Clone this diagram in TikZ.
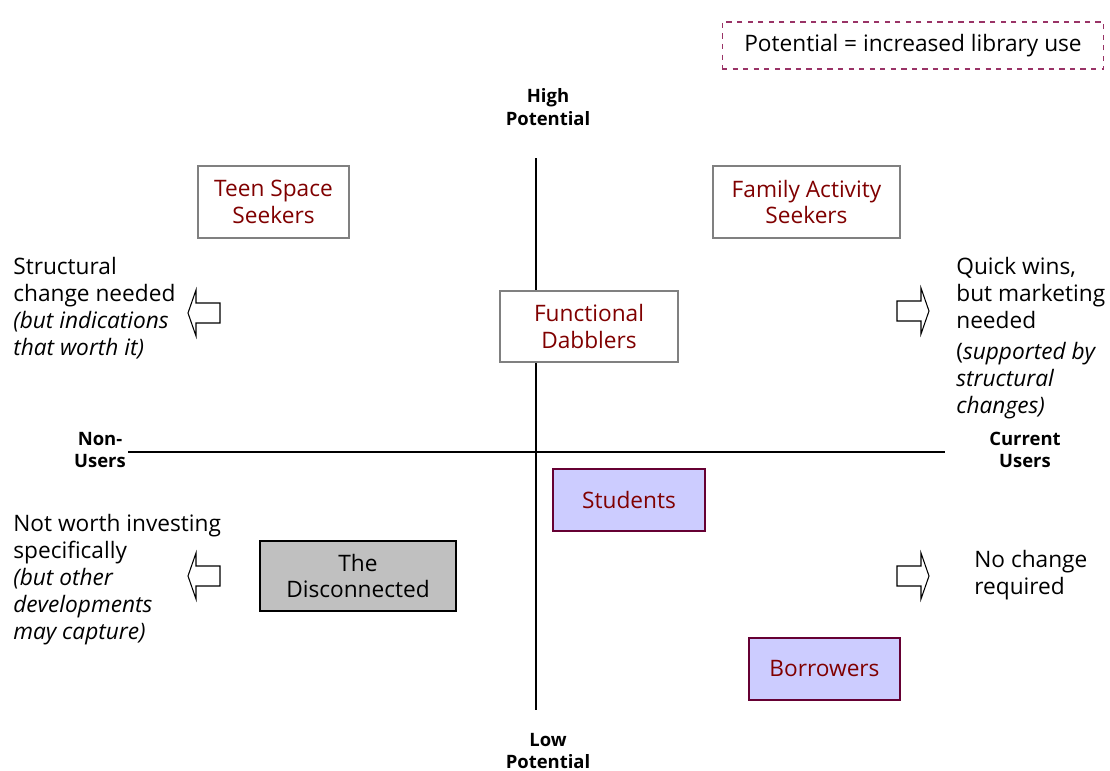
\documentclass[tikz,border=0pt]{standalone}
\usepackage{fontspec}
\setmainfont{Open Sans}
\usetikzlibrary{positioning}
\definecolor{segtext}{HTML}{800000}
\definecolor{greyframe}{HTML}{808080}
\definecolor{plumframe}{HTML}{660033}
\definecolor{lavender}{HTML}{CCCCFF}
\definecolor{silverfill}{HTML}{C0C0C0}
\definecolor{legendframe}{HTML}{993366}

\begin{document}
\begin{tikzpicture}[x=0.02cm, y=-0.02cm,
        segment/.style={rectangle, draw=greyframe, fill=white, text=segtext, align=center, line width=1.1pt, font=\fontsize{12.9}{15}\selectfont},
        current/.style={segment, draw=plumframe, fill=lavender},
        lost/.style={segment, draw=black, fill=silverfill, text=black, line width=0.9pt},
        axislabel/.style={align=center, font=\fontsize{10.5}{12.8}\selectfont\bfseries},
        note/.style={align=left, anchor=north west, inner sep=0pt, font=\fontsize{12.9}{15.3}\selectfont},
        axis/.style={draw, line width=0.6pt},
        fatarrow/.style={draw, line width=0.6pt, fill=white},
        pics/shift arrow/.style={code={
            \path[fatarrow] (-16,-10) -- (8,-10) -- (8,-23) -- (16,0) -- (8,23) -- (8,10) -- (-16,10) -- cycle;}}]

        \useasboundingbox (0,0) rectangle (1110,771);

        % Axes
        \coordinate (top) at (536,158);
        \coordinate (bottom) at (536,710);
        \coordinate (left) at (128,452);
        \coordinate (right) at (945,452);
        \path [axis] (top) -- (bottom);
        \path [axis] (left) -- (right);

        % Axis labels
        \node [axislabel] (high) at (548,107) {High\\Potential};
        \node [axislabel] (low) at (548,751) {Low\\Potential};
        \node [axislabel] (nonusers) at (100,450) {Non-\\Users};
        \node [axislabel] (users) at (1025,450) {Current\\Users};

        % Legend
        \node [draw=legendframe, dashed, line width=0.6pt, minimum width=7.64cm, minimum height=0.94cm, font=\fontsize{12.9}{15}\selectfont] (legend) at (913,45.5) {Potential = increased library use};

        % Segments
        \node [segment, minimum width=3.02cm, minimum height=1.44cm] (teen) at (273.5,202) {Teen Space\\Seekers};
        \node [segment, minimum width=3.74cm, minimum height=1.44cm] (family) at (806.5,202) {Family Activity\\Seekers};
        \node [segment, minimum width=3.56cm, minimum height=1.42cm] (dabblers) at (589,326.5) {Functional\\Dabblers};
        \node [current, minimum width=3.04cm, minimum height=1.24cm] (students) at (629,500) {Students};
        \node [current, minimum width=3.02cm, minimum height=1.24cm] (borrowers) at (824.5,669) {Borrowers};
        \node [lost, minimum width=3.92cm, minimum height=1.40cm] (disconnected) at (358,576) {The\\Disconnected};

        % Arrows
        \pic [xscale=-1] at (204,313) {shift arrow};
        \pic at (913,311) {shift arrow};
        \pic [xscale=-1] at (204,576) {shift arrow};
        \pic at (913,576) {shift arrow};

        % Notes
        \node [note] (structural) at (13,257) {Structural\\change needed\\\textit{(but indications}\\\textit{that worth it)}};
        \node [note] (quickwins) at (956,257) {Quick wins,\\but marketing\\needed};
        \node [note] (supported) at (956,342) {(\textit{supported by}\\\textit{structural}\\\textit{changes)}};
        \node [note] (notworth) at (13,514) {Not worth investing\\specifically\\\textit{(but other}\\\textit{developments}\\\textit{may capture)}};
        \node [note] (nochange) at (974,550) {No change\\required};
    \end{tikzpicture}
\end{document}
